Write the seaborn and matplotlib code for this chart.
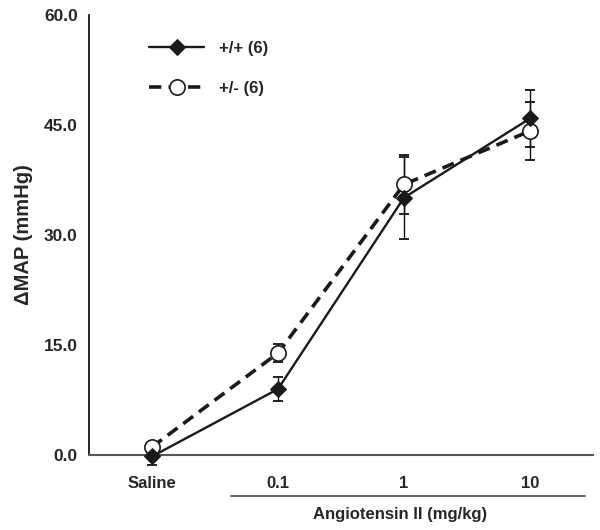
import matplotlib
matplotlib.use("Agg")
import matplotlib.pyplot as plt
import seaborn as sns
import pandas as pd
import numpy as np

categories = ["Saline", "0.1", "1", "10"]
wt_mean = [-0.2, 9.0, 35.1, 45.9]
wt_err = [1.2, 1.6, 5.6, 3.9]
het_mean = [1.1, 13.9, 36.9, 44.2]
het_err = [0.6, 1.2, 4.0, 4.0]
series_labels = ["+/+ (6)", "+/- (6)"]
y_ticks = [0.0, 15.0, 30.0, 45.0, 60.0]

sns.set_style("white")
plt.rcParams['font.family'] = ['Liberation Sans', 'DejaVu Sans']

fig = plt.figure(figsize=(6, 5.3), dpi=100)
ax = fig.add_axes([0.1483, 0.1415, 0.84, 0.83])

xpos = np.arange(len(categories))
df = pd.DataFrame({
    "x": np.concatenate([xpos, xpos]),
    "y": wt_mean + het_mean,
    "group": [series_labels[0]] * 4 + [series_labels[1]] * 4,
})

# error bars
for m, e in [(wt_mean, wt_err), (het_mean, het_err)]:
    eb = ax.errorbar(xpos, m, yerr=e, fmt="none", ecolor="#111111", elinewidth=1.0,
                     capsize=3.5, capthick=1.3, zorder=2)
    for art in eb.lines[1] + eb.lines[2]:
        art.set_clip_on(False)

sns.lineplot(data=df[df.group == series_labels[1]], x="x", y="y", ax=ax, color="#1a1a1a",
             linewidth=2.6, marker="o", markersize=11, markerfacecolor="white",
             markeredgecolor="#1a1a1a", markeredgewidth=1.2, dashes=False, zorder=3,
             label=series_labels[1])
ax.lines[-1].set_dashes([3.4, 2.0])
ax.lines[-1].set_clip_on(False)
sns.lineplot(data=df[df.group == series_labels[0]], x="x", y="y", ax=ax, color="#1a1a1a",
             linewidth=1.7, marker="D", markersize=8.5, markerfacecolor="#1a1a1a",
             markeredgecolor="#1a1a1a", zorder=4, label=series_labels[0])
ax.lines[-1].set_clip_on(False)

handles, labels = ax.get_legend_handles_labels()
order = [labels.index(series_labels[0]), labels.index(series_labels[1])]
leg = ax.legend([handles[i] for i in order], [labels[i] for i in order],
                loc="upper left", bbox_to_anchor=(0.09, 0.976), frameon=False,
                handlelength=3.3, handletextpad=0.9, labelspacing=1.5,
                prop={"weight": "bold", "size": 12})

ax.set_xlim(-0.5, 3.5)
ax.set_ylim(0, 60)
ax.set_yticks(y_ticks)
ax.set_yticklabels([f"{v:.1f}" for v in y_ticks], fontweight="bold", fontsize=12.5)
ax.set_xticks([-0.5, 0.5, 1.5, 2.5, 3.5])
ax.set_xticklabels([])
ax.set_xticks(xpos, minor=True)
ax.set_xticklabels(categories, minor=True, fontweight="bold", fontsize=12)
ax.tick_params(axis="x", which="minor", length=0, pad=15)
ax.tick_params(axis="x", which="major", length=4, width=1, color="#555555", direction="out")
ax.tick_params(axis="y", length=5, width=1, direction="out", pad=3)
ax.set_xlabel("")
ax.set_ylabel("\u0394MAP (mmHg)", fontweight="bold", fontsize=14.5, labelpad=8)

for s in ["top", "right"]:
    ax.spines[s].set_visible(False)
ax.spines["left"].set_color("black")
ax.spines["left"].set_linewidth(1.2)
ax.spines["bottom"].set_color("#555555")
ax.spines["bottom"].set_linewidth(1.5)

# Angiotensin II group bar and label
fig.add_artist(plt.Line2D([231/600, 585/600], [1-496/530, 1-496/530], color="#555555", linewidth=1.3))
fig.text(400/600, 1-515/530, "Angiotensin II (mg/kg)", ha="center", va="center",
         fontweight="bold", fontsize=12)

fig.savefig("out.png", dpi=100)
